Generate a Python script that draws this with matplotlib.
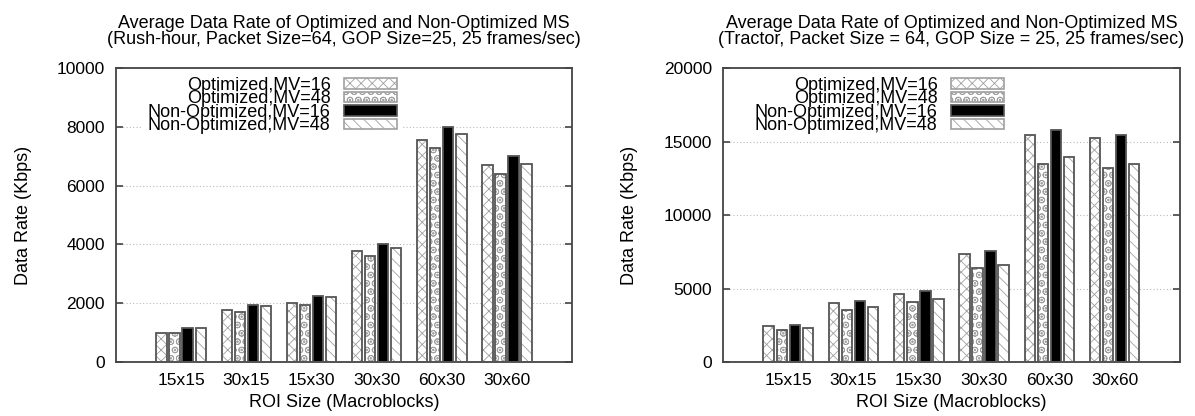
import matplotlib
matplotlib.use("Agg")
import matplotlib.pyplot as plt
import numpy as np

# ROI sizes on the x axis
roi_sizes = ["15x15", "30x15", "15x30", "30x30", "60x30", "30x60"]
series_names = ["Optimized,MV=16", "Optimized,MV=48",
                "Non-Optimized,MV=16", "Non-Optimized,MV=48"]

# Rush-hour sequence (Kbps)
rush_opt16 = [1000, 1760, 1990, 3790, 7560, 6700]
rush_opt48 = [970, 1690, 1930, 3600, 7280, 6390]
rush_nopt16 = [1160, 1940, 2250, 4030, 8000, 7010]
rush_nopt48 = [1150, 1900, 2215, 3890, 7760, 6740]

# Tractor sequence (Kbps)
tractor_opt16 = [2430, 4040, 4610, 7320, 15460, 15230]
tractor_opt48 = [2180, 3570, 4110, 6370, 13500, 13220]
tractor_nopt16 = [2540, 4180, 4800, 7530, 15800, 15430]
tractor_nopt48 = [2290, 3720, 4320, 6620, 13930, 13500]

plt.rcParams['font.family'] = ['Liberation Sans', 'DejaVu Sans']
plt.rcParams['hatch.linewidth'] = 0.6

hatches = ["xxx", "OO..", None, "\\\\\\"]
faces = ["white", "white", "black", "white"]
edge = "#555555"
hatch_col = "#a0a0a0"


def draw(ax, data, ymax, step, title):
    x = np.arange(len(roi_sizes))
    w = 0.16
    offs = [-0.3, -0.1, 0.1, 0.3]
    for i, vals in enumerate(data):
        hc = hatch_col if hatches[i] else edge
        # fill + hatch, then the darker outline on top
        ax.bar(x + offs[i], vals, w, color=faces[i], hatch=hatches[i],
               edgecolor=hc, linewidth=0, zorder=2)
        ax.bar(x + offs[i], vals, w, color="none", edgecolor=edge,
               linewidth=1.3, zorder=3)
    handles = []
    for i in range(4):
        hc = hatch_col if hatches[i] else edge
        handles.append(plt.Rectangle((0, 0), 1, 1, facecolor=faces[i],
                                     hatch=hatches[i], edgecolor=hc,
                                     linewidth=1.2))
    leg = ax.legend(handles, series_names, loc="upper left",
                    bbox_to_anchor=(0.05, 1.0), markerfirst=False,
                    frameon=True, framealpha=1, edgecolor="none",
                    fancybox=False, fontsize=13, labelspacing=-0.2,
                    handlelength=2.9, handleheight=0.5, handletextpad=0.75,
                    borderpad=0.3, borderaxespad=0.2)
    leg.set_zorder(4)
    for t in leg.get_texts():
        t.set_ha("right")
    leg._legend_box.align = "right"

    ax.set_xlim(-1, 6)
    ax.set_ylim(0, ymax)
    ax.set_yticks(np.arange(0, ymax + 1, step))
    ax.set_xticks(x)
    ax.set_xticklabels(roi_sizes)
    ax.tick_params(axis="x", length=0, labelsize=12.5, pad=8)
    ax.tick_params(axis="y", direction="in", right=True, length=5,
                   width=1.2, color="#444444", labelsize=12.5, pad=8)
    ax.yaxis.grid(True, linestyle=(0, (1, 2)), color="#bbbbbb", linewidth=0.8)
    ax.set_axisbelow(True)
    for s in ax.spines.values():
        s.set_color("#444444")
        s.set_linewidth(1.3)
    ax.set_xlabel("ROI Size (Macroblocks)", fontsize=13, labelpad=4)
    ax.set_ylabel("Data Rate (Kbps)", fontsize=13, labelpad=18)
    ax.set_title(title, fontsize=13, linespacing=0.95, pad=17)


fig = plt.figure(figsize=(11.95, 4.16), dpi=100)
ax1 = fig.add_axes([0.0971, 0.1298, 0.3816, 0.7067])
ax2 = fig.add_axes([0.605, 0.1298, 0.3824, 0.7067])

draw(ax1, [rush_opt16, rush_opt48, rush_nopt16, rush_nopt48], 10000, 2000,
     "Average Data Rate of Optimized and Non-Optimized MS\n"
     "(Rush-hour, Packet Size=64, GOP Size=25, 25 frames/sec)")
draw(ax2, [tractor_opt16, tractor_opt48, tractor_nopt16, tractor_nopt48], 20000, 5000,
     "Average Data Rate of Optimized and Non-Optimized MS\n"
     "(Tractor, Packet Size = 64, GOP Size = 25, 25 frames/sec)")

fig.savefig("out.png", dpi=100)
